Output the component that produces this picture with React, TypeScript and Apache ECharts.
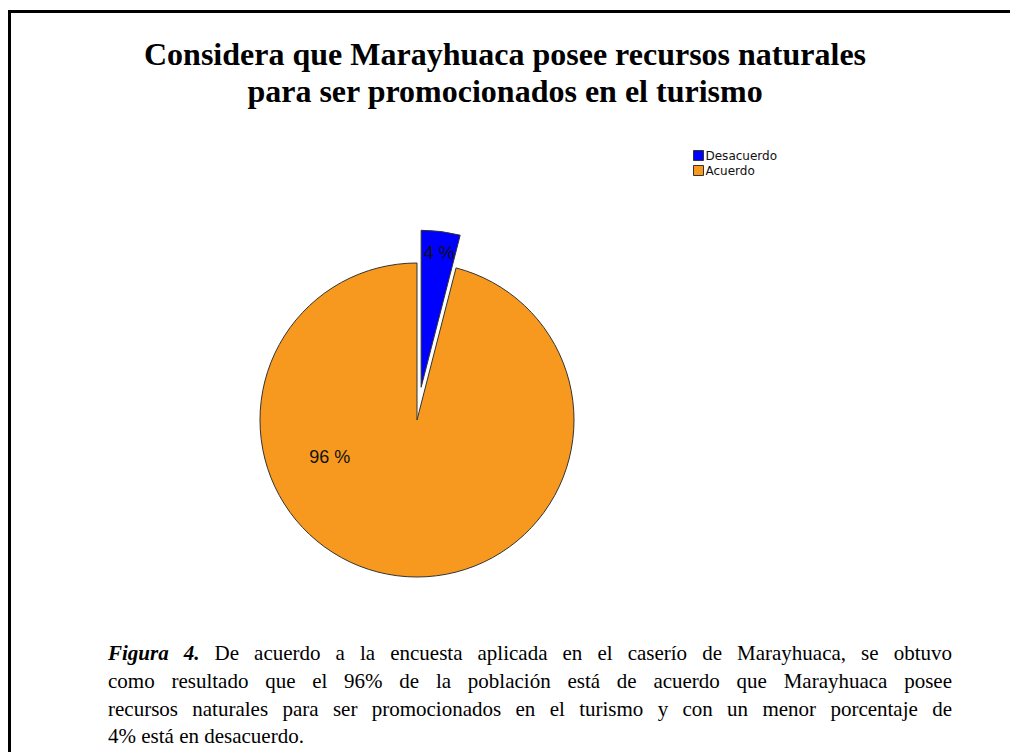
import React, { useEffect, useRef } from "react";
import * as echarts from "echarts";

const titleLines = [
  "Considera que Marayhuaca posee recursos naturales",
  "para ser promocionados en el turismo",
];
const categories = ["Desacuerdo", "Acuerdo"];
const values = [4, 96];
const colors = ["#0000FF", "#F7991F"];
const labelOffsets: [number, number][] = [
  [8, -53],
  [-77, -44],
];
const captionLead = "Figura 4.";
const captionLines = [
  " De acuerdo a la encuesta aplicada en el caserío de Marayhuaca, se obtuvo",
  "como resultado que el 96% de la población está de acuerdo que Marayhuaca posee",
  "recursos naturales para ser promocionados en el turismo y con un menor porcentaje de",
  "4% está en desacuerdo.",
];

export default function App() {
  const ref = useRef<HTMLDivElement>(null);
  useEffect(() => {
    document.body.style.margin = "0";
    const chart = echarts.init(ref.current!, null, { renderer: "svg" });
    chart.setOption({
      animation: false,
      backgroundColor: "transparent",
      title: {
        text: titleLines.join("\n"),
        left: 500,
        textAlign: "center",
        top: 30,
        textStyle: {
          fontFamily: "Liberation Serif",
          fontWeight: "bold",
          fontSize: 32,
          lineHeight: 37,
          color: "#000",
        },
      },
      legend: {
        orient: "vertical",
        left: 688,
        top: 144,
        itemWidth: 10,
        itemHeight: 10,
        itemGap: 2,
        icon: "rect",
        selectedMode: false,
        textStyle: {
          fontFamily: "DejaVu Sans",
          fontSize: 12,
          lineHeight: 13,
          color: "#111",
          padding: [0, 0, 0, -3],
        },
        itemStyle: { borderColor: "#333", borderWidth: 1 },
        data: categories,
      },
      series: [
        {
          type: "pie",
          center: [417, 420],
          radius: [0, 157],
          startAngle: 90,
          clockwise: true,
          selectedMode: "single",
          selectedOffset: 33,
          avoidLabelOverlap: false,
          emphasis: { disabled: true },
          itemStyle: { borderColor: "#333", borderWidth: 1 },
          label: {
            show: true,
            position: "inside",
            formatter: "{c} %",
            fontFamily: "Liberation Sans",
            fontSize: 18,
            color: "#111",
          },
          labelLine: { show: false },
          data: categories.map((c, i) => ({
            name: c,
            value: values[i],
            selected: i === 0,
            itemStyle: { color: colors[i] },
            select: {
              itemStyle: { color: colors[i], borderColor: "#333", borderWidth: 1 },
              label: { offset: labelOffsets[i] },
            },
            label: { offset: labelOffsets[i] },
          })),
        },
      ],
    });
    return () => chart.dispose();
  }, []);
  return (
    <div style={{ position: "fixed", left: 0, top: 0, width: 1010, height: 752, overflow: "hidden", background: "#fff" }}>
      <div
        style={{
          position: "absolute",
          left: 8,
          top: 10,
          width: 1100,
          height: 900,
          border: "3px solid #000",
          boxSizing: "border-box",
        }}
      />
      <div ref={ref} style={{ position: "absolute", left: 0, top: 0, width: 1010, height: 752 }} />
      <div
        style={{
          position: "absolute",
          left: 108,
          top: 640,
          width: 844,
          fontFamily: "Liberation Serif",
          fontSize: 21,
          lineHeight: "27.8px",
          color: "#000",
        }}
      >
        {captionLines.map((line, i) => (
          <div
            key={i}
            style={{
              textAlign: "justify",
              textAlignLast: i < captionLines.length - 1 ? "justify" : "left",
              whiteSpace: "nowrap",
            }}
          >
            {i === 0 ? (
              <>
                <b>
                  <i>{captionLead}</i>
                </b>
                {line}
              </>
            ) : (
              line
            )}
          </div>
        ))}
      </div>
    </div>
  );
}
